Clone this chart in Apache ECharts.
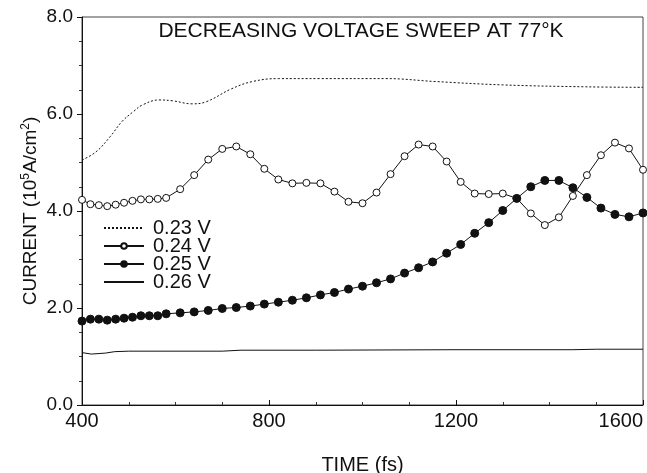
<!DOCTYPE html>
<html>
<head>
<meta charset="utf-8">
<script src="https://cdn.jsdelivr.net/npm/echarts@6/dist/echarts.min.js"></script>
<style>
  html, body { margin: 0; padding: 0; background: #fff; }
  #chart { width: 647px; height: 473px; }
</style>
</head>
<body>
<div id="chart"></div>
<script>
// sample times (fs) shared by the two marked curves
var times = [400, 418, 436, 454, 472, 490, 508, 526, 544, 562, 580,
  610, 640, 670, 700, 730, 760, 790, 820, 850, 880, 910, 940, 970, 1000,
  1030, 1060, 1090, 1120, 1150, 1180, 1210, 1240, 1270, 1300, 1330, 1360,
  1390, 1420, 1450, 1480, 1510, 1540, 1570, 1600];

var v024 = [4.23, 4.14, 4.12, 4.10, 4.13, 4.17, 4.21, 4.24, 4.24, 4.25, 4.27,
  4.45, 4.74, 5.06, 5.28, 5.33, 5.17, 4.87, 4.65, 4.57, 4.58, 4.57, 4.40, 4.19, 4.16,
  4.38, 4.76, 5.13, 5.37, 5.33, 5.02, 4.60, 4.36, 4.35, 4.36, 4.26, 3.95,
  3.71, 3.87, 4.31, 4.74, 5.15, 5.41, 5.29, 4.85];

var v025 = [1.73, 1.77, 1.77, 1.75, 1.77, 1.79, 1.81, 1.84, 1.84, 1.84, 1.88,
  1.90, 1.92, 1.95, 1.99, 2.01, 2.04, 2.08, 2.12, 2.16, 2.21, 2.27, 2.32, 2.39, 2.45,
  2.52, 2.60, 2.72, 2.83, 2.95, 3.13, 3.31, 3.54, 3.76, 4.01, 4.26, 4.50,
  4.63, 4.63, 4.48, 4.28, 4.06, 3.93, 3.88, 3.96];

// unmarked curves, read at their own times
var t023 = [400, 430, 460, 485, 510, 530, 565, 595, 635, 665, 720, 765, 820, 910, 1050, 1155, 1300, 1480, 1600];
var v023 = [5.05, 5.22, 5.53, 5.84, 6.05, 6.19, 6.29, 6.27, 6.21, 6.25, 6.52, 6.67, 6.73, 6.73, 6.73, 6.67, 6.60, 6.56, 6.55];

var t026 = [400, 420, 450, 470, 500, 700, 740, 900, 1200, 1450, 1500, 1600];
var v026 = [1.08, 1.05, 1.07, 1.10, 1.11, 1.11, 1.13, 1.13, 1.14, 1.14, 1.15, 1.15];

var names = ['0.23 V', '0.24 V', '0.25 V', '0.26 V'];
var xTicks = { min: 400, max: 1600, step: 400 };
var yTicks = { min: 0, max: 8, step: 2 };

function pairs(xs, ys){
  var out = [];
  for(var i=0;i<xs.length;i++){
    out.push([xs[i], ys[i]]);
  }
  return out;
}

var font = 'Liberation Sans, Arial, sans-serif';
var ink = '#111';
var clear = 'rgba(0,0,0,0)';

var chart = echarts.init(document.getElementById('chart'), null, {renderer: 'canvas'});

var options = {
  backgroundColor: '#fff',
  animation: false,
  grid: {
    left: 82,
    right: 4,
    top: 17,
    bottom: 68,
    outerBoundsMode: 'none',
    containLabel: false,
    show: true,
    borderColor: '#444',
    borderWidth: 1
  },
  graphic: [{
    type: 'text',
    x: 361,
    y: 31,
    style: {
      text: 'DECREASING VOLTAGE SWEEP AT 77°K',
      font: '21px ' + font,
      fill: ink,
      align: 'center',
      verticalAlign: 'middle'
    }
  }],
  legend: {
    // plain lines get an invisible marker in the legend
    data: [
      { name: names[0], itemStyle: { color: clear, borderColor: clear, borderWidth: 0 } },
      { name: names[1] },
      { name: names[2] },
      { name: names[3], itemStyle: { color: clear, borderColor: clear, borderWidth: 0 } }
    ],
    orient: 'vertical',
    left: 103,
    top: 218,
    padding: 0,
    itemWidth: 40,
    itemHeight: 7,
    itemGap: -2,
    textStyle: {
      fontFamily: font,
      fontSize: 20,
      lineHeight: 18,
      color: ink,
      padding: [0, 0, 0, 4]
    }
  },
  xAxis: {
    type: 'value',
    min: xTicks.min,
    max: xTicks.max,
    interval: xTicks.step,
    name: 'TIME (fs)',
    nameLocation: 'middle',
    nameGap: 50,
    nameTextStyle: { fontFamily: font, fontSize: 20, color: ink },
    axisLine: { lineStyle: { color: ink, width: 1 } },
    axisTick: { inside: true, length: 5, lineStyle: { color: ink } },
    minorTick: { show: true, splitNumber: 4, length: 3, lineStyle: { color: '#333' } },
    splitLine: { show: false },
    axisLabel: {
      fontFamily: font,
      fontSize: 20,
      color: ink,
      margin: 6,
      alignMaxLabel: 'right',
      formatter: function(v){ return String(v); }
    }
  },
  yAxis: {
    type: 'value',
    min: yTicks.min,
    max: yTicks.max,
    interval: yTicks.step,
    name: 'CURRENT (10{sup|5}A/cm{sup|2})',
    nameLocation: 'middle',
    nameGap: 40,
    nameMoveOverlap: false,
    nameTextStyle: {
      fontFamily: font,
      fontSize: 19,
      lineHeight: 22,
      color: ink,
      rich: {
        sup: { fontFamily: font, fontSize: 12, lineHeight: 12, verticalAlign: 'top', color: ink }
      }
    },
    axisLine: { lineStyle: { color: ink, width: 1 } },
    axisTick: { inside: false, length: 5, lineStyle: { color: ink } },
    minorTick: { show: true, splitNumber: 4, length: 3, lineStyle: { color: '#333' } },
    splitLine: { show: false },
    axisLabel: {
      fontFamily: font,
      fontSize: 19,
      color: ink,
      margin: 9,
      formatter: function(v){ return v.toFixed(1); }
    }
  },
  series: [
    {
      name: names[0],
      type: 'line',
      data: pairs(t023, v023),
      smooth: 0.4,
      showSymbol: false,
      symbol: 'none',
      lineStyle: { color: ink, width: 1, type: [2, 2] },
      itemStyle: { color: ink }
    },
    {
      name: names[1],
      type: 'line',
      data: pairs(times, v024),
      symbol: 'circle',
      symbolSize: 7,
      lineStyle: { color: ink, width: 1 },
      itemStyle: { color: '#fff', borderColor: ink, borderWidth: 1 }
    },
    {
      name: names[2],
      type: 'line',
      data: pairs(times, v025),
      symbol: 'circle',
      symbolSize: 8,
      lineStyle: { color: ink, width: 1 },
      itemStyle: { color: ink, borderColor: ink, borderWidth: 1 }
    },
    {
      name: names[3],
      type: 'line',
      data: pairs(t026, v026),
      showSymbol: false,
      symbol: 'none',
      lineStyle: { color: ink, width: 1 },
      itemStyle: { color: ink }
    }
  ]
};

chart.setOption(options);
</script>
</body>
</html>
